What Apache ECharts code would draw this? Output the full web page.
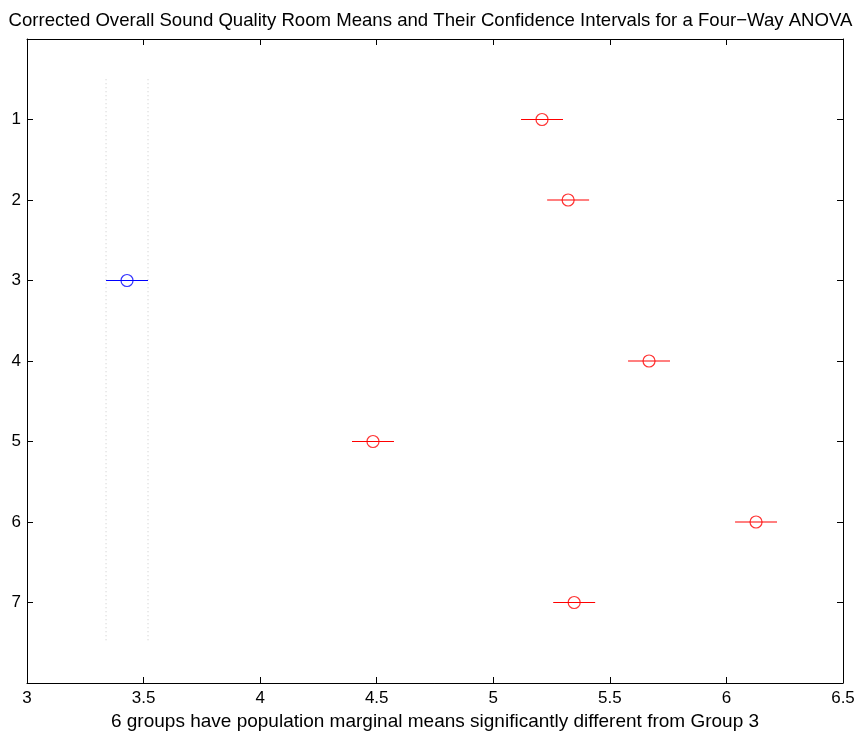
<!DOCTYPE html>
<html>
<head>
<meta charset="utf-8">
<script src="https://cdn.jsdelivr.net/npm/echarts@6/dist/echarts.min.js"></script>
<style>html,body{margin:0;padding:0;background:#fff}#c{width:861px;height:733px}</style>
</head>
<body>
<div id="c"></div>
<script>
const groups = [1, 2, 3, 4, 5, 6, 7];
const means = [5.209, 5.321, 3.429, 5.668, 4.484, 6.127, 5.347];
const lower = [5.119, 5.231, 3.339, 5.578, 4.394, 6.037, 5.257];
const upper = [5.299, 5.411, 3.519, 5.758, 4.574, 6.217, 5.437];
const selectedGroup = 3;
const xTicks = [3, 3.5, 4, 4.5, 5, 5.5, 6, 6.5];
const yTicks = [1, 2, 3, 4, 5, 6, 7];
const titleText = 'Corrected Overall Sound Quality Room Means and Their Confidence Intervals for a Four\u2212Way ANOVA';
const xLabel = '6 groups have population marginal means significantly different from Group 3';

const colorFor = g => g === selectedGroup ? '#0000ff' : '#ff0000';
const selIdx = groups.indexOf(selectedGroup);
const refLines = [lower[selIdx], upper[selIdx]];

const chart = echarts.init(document.getElementById('c'), null, {renderer: 'canvas'});
const font = 'Liberation Sans, Arial, Helvetica, sans-serif';
const line = () => ({show: true, onZero: false, lineStyle: {color: '#000', width: 1}});
const tick = (cv) => {
  const t = {show: true, inside: true, length: 6, lineStyle: {color: '#000', width: 1}};
  if (cv) t.customValues = cv;
  return t;
};
chart.setOption({
  animation: false,
  title: {text: titleText, left: 'center', top: 6, textStyle: {fontFamily: font, fontSize: 18.6, fontWeight: 'normal', color: '#000'}},
  grid: {left: 27, right: 18, top: 39, bottom: 50, containLabel: false, outerBoundsMode: 'none'},
  xAxis: [
    {type: 'value', min: 3, max: 6.5, interval: 0.5, position: 'bottom',
      name: xLabel, nameLocation: 'middle', nameGap: 28,
      nameTextStyle: {fontFamily: font, fontSize: 19, color: '#000'},
      axisLine: line(), axisTick: tick(), splitLine: {show: false},
      axisLabel: {fontFamily: font, fontSize: 17, color: '#000', margin: 7,
        customValues: xTicks, formatter: v => String(+v.toFixed(1))}},
    {type: 'value', min: 3, max: 6.5, interval: 0.5, position: 'top',
      axisLine: line(), axisTick: tick(), splitLine: {show: false}, axisLabel: {show: false}}
  ],
  yAxis: [
    {type: 'value', min: 0, max: 8, interval: 1, inverse: true, position: 'left',
      axisLine: line(), axisTick: tick(yTicks), splitLine: {show: false},
      axisLabel: {fontFamily: font, fontSize: 17, color: '#000', margin: 6,
        customValues: yTicks, formatter: v => String(v)}},
    {type: 'value', min: 0, max: 8, interval: 1, inverse: true, position: 'right',
      axisLine: line(), axisTick: tick(yTicks), splitLine: {show: false},
      axisLabel: {show: false}}
  ],
  series: [
    {
      type: 'custom', xAxisIndex: 0, yAxisIndex: 0, silent: true, z: 1,
      data: refLines.map(v => [v]),
      renderItem: (params, api) => {
        const x = api.value(0);
        const p1 = api.coord([x, 0.5]);
        const p2 = api.coord([x, 7.5]);
        return {type: 'line', shape: {x1: p1[0], y1: p1[1], x2: p2[0], y2: p2[1]},
          style: {stroke: '#c8c8c8', fill: null, lineWidth: 1, lineDash: [1, 3]}};
      }
    },
    {
      type: 'custom', xAxisIndex: 0, yAxisIndex: 0, silent: true, z: 2,
      data: groups.map((g, i) => [lower[i], upper[i], g]),
      renderItem: (params, api) => {
        const g = api.value(2);
        const p1 = api.coord([api.value(0), g]);
        const p2 = api.coord([api.value(1), g]);
        return {type: 'line', shape: {x1: p1[0], y1: p1[1], x2: p2[0], y2: p2[1]},
          style: {stroke: colorFor(g), fill: null, lineWidth: 1.2}};
      }
    },
    {
      type: 'scatter', xAxisIndex: 0, yAxisIndex: 0, z: 3,
      symbol: 'circle', symbolSize: 12,
      data: groups.map((g, i) => ({value: [means[i], g],
        itemStyle: {color: 'rgba(255,255,255,0)', borderColor: colorFor(g), borderWidth: 1.2}}))
    }
  ]
});
</script>
</body>
</html>
